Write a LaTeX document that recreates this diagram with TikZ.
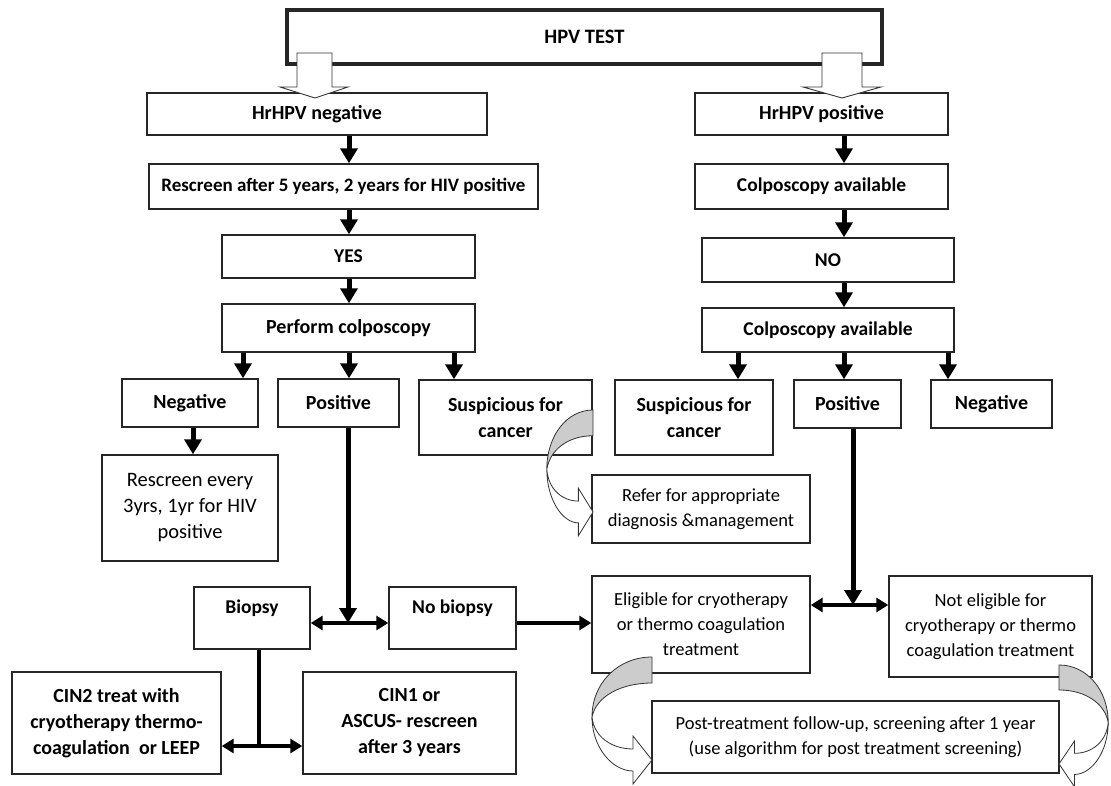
\documentclass[tikz,border=0pt]{standalone}
\usepackage{fontspec}
\setmainfont{Carlito}
\usetikzlibrary{arrows.meta,calc}

% curved U-turn arrow: shaded back crescent and white front band with head
\newcommand\bendarrow[4]{%
  \begin{scope}[shift={(#1,#2)}, xscale=#3, yscale=#4]
    \filldraw[fill=gray!40, draw=black!80, line width=0.8pt]
      (0,0) .. controls (-34,0) and (-60,26) .. (-60,60)
            .. controls (-56,40) and (-32,26) .. (0,26) -- cycle;
    \filldraw[fill=white, draw=black!80, line width=0.8pt]
      (-60,60) .. controls (-60,90) and (-40,114) .. (-19,114)
      -- (-19,127) -- (0,103) -- (-19,79) -- (-19,92)
      .. controls (-40,92) and (-58,80) .. (-60,60) -- cycle;
  \end{scope}}

\begin{document}
\begin{tikzpicture}[x=1pt,y=-1pt,
  bx/.style={draw=black!85, line width=1.4pt, fill=white, inner sep=0pt,
    align=center, rectangle, font=\fontsize{18.5}{25}\selectfont},
  bb/.style={bx, font=\bfseries\fontsize{20}{26}\selectfont},
  bs/.style={bx, font=\bfseries\fontsize{19.5}{25}\selectfont},
  arr/.style={line width=5pt, -{Triangle[length=15pt,width=17pt]}},
  harr/.style={line width=4pt, -{Triangle[length=12pt,width=14pt]}},
  darr/.style={line width=4pt, {Triangle[length=12pt,width=14pt]}-{Triangle[length=12pt,width=14pt]}},
  hollow/.style={draw=black!80, line width=0.9pt, fill=white},
  toplabel/.style={font=\bfseries\fontsize{19.5}{25}\selectfont, anchor=north}]

\useasboundingbox (0,0) rectangle (1111,786);
\fill[white] (0,0) rectangle (1111,786);

% ---------- top ----------
\node[bb, font=\bfseries\fontsize{20.5}{26}\selectfont, line width=4pt, minimum width=595pt, minimum height=54pt] (hpv) at (584.5,37) {HPV TEST};

\node[bb, minimum width=340pt, minimum height=42pt] (neg) at (317,114) {HrHPV negative};
\node[bb, minimum width=253pt, minimum height=42pt] (pos) at (821.5,114) {HrHPV positive};

% hollow block arrows from the test box
\draw[hollow] (297,53) -- (332,53) -- (332,87) -- (348,87) -- (315,98) -- (280,87) -- (297,87) -- cycle;
\draw[hollow] (822,53) -- (862,53) -- (862,87) -- (881,87) -- (842,98) -- (803,87) -- (822,87) -- cycle;

% ---------- left branch ----------
\node[bs, font=\bfseries\fontsize{19}{25}\selectfont, minimum width=389pt, minimum height=45pt] (resc5) at (343.5,186.5) {Rescreen after 5 years, 2 years for HIV positive};
\node[bs, minimum width=253pt, minimum height=43pt] (yes) at (348.5,256.5) {YES};
\node[bs, font=\bfseries\fontsize{20}{25}\selectfont, minimum width=253pt, minimum height=48pt] (perf) at (348.5,328) {Perform colposcopy};

\node[bb, minimum width=136pt, minimum height=48pt] (lneg) at (190,403) {Negative};
\node[bb, minimum width=121pt, minimum height=48pt] (lpos) at (338.5,403) {Positive};
\node[bb, minimum width=173pt, minimum height=75pt] (lsus) at (505.5,417.5) {Suspicious for\\cancer};
\node[bx, font=\fontsize{20.5}{26}\selectfont, minimum width=176pt, minimum height=106pt] (resc3) at (190,508) {Rescreen every\\3yrs, 1yr for HIV\\positive};

\node[bx, minimum width=218pt, minimum height=68pt] (refer) at (701,509) {Refer for appropriate\\diagnosis \&management};

\node[bx, minimum width=116pt, minimum height=62pt] (biopsy) at (252,618) {};
\node[toplabel] at ([yshift=-10pt]biopsy.north) {Biopsy};
\node[bx, minimum width=127pt, minimum height=62pt] (nobiopsy) at (452.5,618) {};
\node[toplabel] at ([yshift=-10pt]nobiopsy.north) {No biopsy};

\node[bb, minimum width=209pt, minimum height=102pt] (cin2) at (116.5,723) {CIN2 treat with\\cryotherapy thermo-\\coagulation\ \ or LEEP};
\node[bb, minimum width=213pt, minimum height=102pt] (cin1) at (409.5,723) {CIN1 or\\ASCUS- rescreen\\after 3 years};

% ---------- right branch ----------
\node[bs, minimum width=253pt, minimum height=45pt] (colp1) at (821.5,186.5) {Colposcopy available};
\node[bs, minimum width=252pt, minimum height=44pt] (no) at (828,260) {NO};
\node[bs, minimum width=252pt, minimum height=44pt] (colp2) at (828,330) {Colposcopy available};

\node[bb, minimum width=158pt, minimum height=75pt] (rsus) at (694,417.5) {Suspicious for\\cancer};
\node[bb, minimum width=107pt, minimum height=48pt] (rpos) at (847.5,404) {Positive};
\node[bb, minimum width=121pt, minimum height=48pt] (rneg) at (991.5,404) {Negative};

\node[bx, minimum width=218pt, minimum height=97pt] (elig) at (701,624.5) {Eligible for cryotherapy\\or thermo coagulation\\treatment};
\node[bx, minimum width=203pt, minimum height=101pt] (nelig) at (990.5,626.5) {Not eligible for\\cryotherapy or thermo\\coagulation treatment};
\node[bx, minimum width=407pt, minimum height=72pt] (post) at (855.5,737) {Post-treatment follow-up, screening after 1 year\\(use algorithm for post treatment screening)};

% ---------- connector columns ----------
\coordinate (cL) at (349,0);
\coordinate (cLa) at (243,0);
\coordinate (cLc) at (454,0);
\coordinate (cLn) at (193,0);
\coordinate (cR) at (844,0);
\coordinate (cRa) at (738,0);
\coordinate (cRc) at (948,0);
\coordinate (j1) at (348,623);
\coordinate (j2) at (853,605);
\coordinate (j3) at (259,746);

\draw[arr] (neg.south -| cL) -- (resc5.north -| cL);
\draw[arr] (resc5.south -| cL) -- (yes.north -| cL);
\draw[arr] (yes.south -| cL) -- (perf.north -| cL);
\draw[arr] (perf.south -| cLa) -- (lneg.north -| cLa);
\draw[arr] (perf.south -| cL) -- (lpos.north -| cL);
\draw[arr] (perf.south -| cLc) -- (lsus.north -| cLc);
\draw[arr] (lneg.south -| cLn) -- (resc3.north -| cLn);

\draw[arr] (pos.south -| cR) -- (colp1.north -| cR);
\draw[arr] (colp1.south -| cR) -- (no.north -| cR);
\draw[arr] (no.south -| cR) -- (colp2.north -| cR);
\draw[arr] (colp2.south -| cRa) -- (rsus.north -| cRa);
\draw[arr] (colp2.south -| cR) -- (rpos.north -| cR);
\draw[arr] (colp2.south -| cRc) -- (rneg.north -| cRc);

\draw[arr] (lpos.south -| j1) -- (j1);
\draw[darr] (biopsy.east |- j1) -- (nobiopsy.west |- j1);
\draw[harr] (nobiopsy.east |- j1) -- (elig.west |- j1);

\draw[arr] (rpos.south -| j2) -- (j2);
\draw[darr] (elig.east |- j2) -- (nelig.west |- j2);

\draw[line width=4pt] (biopsy.south -| j3) -- (j3);
\draw[darr] (cin2.east |- j3) -- (cin1.west |- j3);

% ---------- curved transfer arrows ----------
\bendarrow{593}{410}{0.77}{0.99}
\bendarrow{652}{657}{1}{1}
\bendarrow{1059}{665}{-0.82}{0.96}

\end{tikzpicture}
\end{document}
